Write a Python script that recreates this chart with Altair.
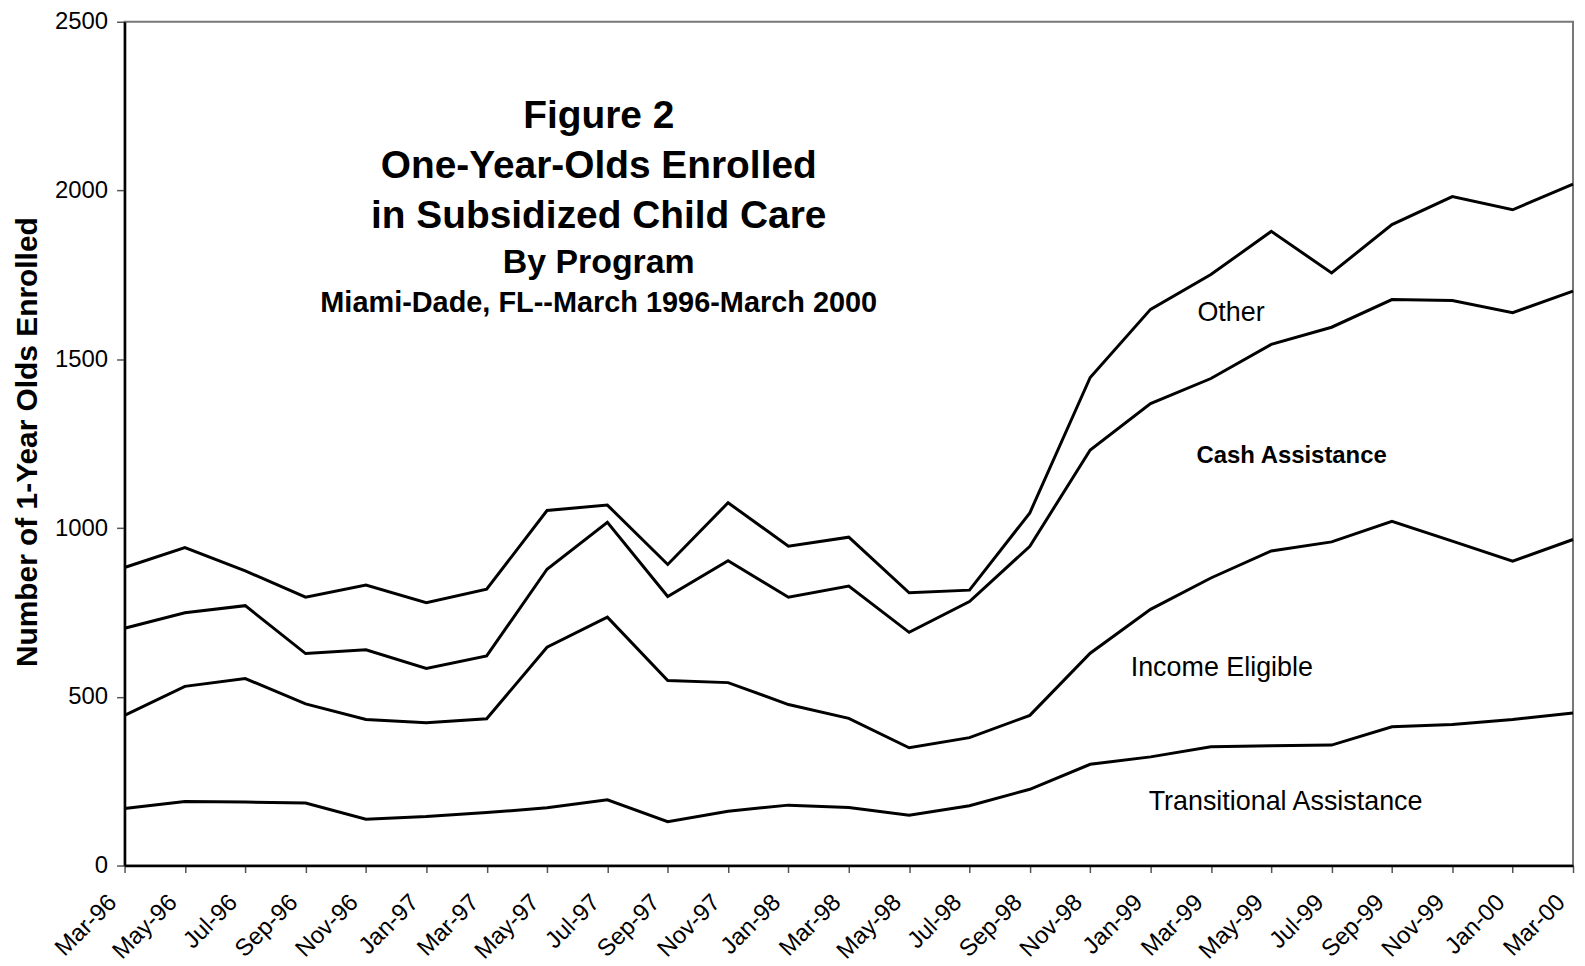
import altair as alt
import pandas as pd
import numpy as np

months = ["Mar-96", "May-96", "Jul-96", "Sep-96", "Nov-96", "Jan-97", "Mar-97",
          "May-97", "Jul-97", "Sep-97", "Nov-97", "Jan-98", "Mar-98", "May-98",
          "Jul-98", "Sep-98", "Nov-98", "Jan-99", "Mar-99", "May-99", "Jul-99",
          "Sep-99", "Nov-99", "Jan-00", "Mar-00"]

transitional = [169, 190, 188, 185, 137, 145, 157, 171, 195, 130, 161, 179, 172,
                149, 177, 226, 300, 322, 352, 355, 357, 411, 418, 433, 452]
income_eligible = [276, 341, 366, 294, 296, 278, 278, 476, 541, 418, 381, 298, 264,
                   200, 202, 219, 329, 437, 500, 577, 602, 609, 543, 469, 514]
cash_assistance = [258, 218, 216, 149, 206, 161, 186, 231, 281, 249, 361, 318, 392,
                   342, 403, 501, 602, 610, 591, 612, 636, 657, 713, 736, 736]
other = [180, 193, 103, 167, 192, 195, 198, 174, 51, 95, 172, 151, 145,
         117, 34, 99, 215, 279, 308, 335, 161, 222, 308, 305, 317]

series_names = ["Transitional Assistance", "Income Eligible", "Cash Assistance", "Other"]
y_ticks = [0, 500, 1000, 1500, 2000, 2500]

stacked = np.cumsum(np.array([transitional, income_eligible, cash_assistance, other]), axis=0)
rows = []
for name, vals in zip(series_names, stacked):
    for m, v in zip(months, vals):
        rows.append({"month": m, "series": name, "value": int(v)})
df = pd.DataFrame(rows)

W, H = 1454, 847
FONT = "Liberation Sans"

lines = alt.Chart(df).mark_line(color="black", strokeWidth=3).encode(
    x=alt.X("month:O", sort=months, scale=alt.Scale(padding=0),
            axis=alt.Axis(title=None, labelAngle=-45, labelFontSize=24,
                          labelAlign="right", labelBaseline="middle",
                          labelPadding=26, labelOffset=-12, tickSize=7)),
    y=alt.Y("value:Q", scale=alt.Scale(domain=[0, 2500], nice=False),
            axis=alt.Axis(values=y_ticks, format="d",
                          title="Number of 1-Year Olds Enrolled",
                          labelFontSize=24, labelPadding=9, tickSize=8,
                          titleFontSize=30, titleFontWeight="bold",
                          titleX=-97, titleY=H / 2 - 2, titleAngle=-90,
                          titleBaseline="middle", titleAlign="center")),
    detail="series:N",
)


def txt(s, x, y, size, weight="normal", align="center"):
    return alt.Chart(alt.Data(values=[{}])).mark_text(
        text=s, fontSize=size, fontWeight=weight, align=align,
        baseline="alphabetic", font=FONT, color="black"
    ).encode(x=alt.value(x), y=alt.value(y))


cx = 476
layers = [
    lines,
    txt("Figure 2", cx, 107, 39, "bold"),
    txt("One-Year-Olds Enrolled", cx, 157, 39, "bold"),
    txt("in Subsidized Child Care", cx, 207, 39, "bold"),
    txt("By Program", cx, 252, 34, "bold"),
    txt("Miami-Dade, FL--March 1996-March 2000", cx, 291, 29, "bold"),
    txt("Other", 1077, 300, 27, align="left"),
    txt("Cash Assistance", 1076, 443, 24, "bold", align="left"),
    txt("Income Eligible", 1010, 657, 27, align="left"),
    txt("Transitional Assistance", 1028, 791, 27, align="left"),
]

chart = alt.layer(*layers).properties(
    width=W, height=H,
    autosize=alt.AutoSizeParams(type="none"),
    padding={"left": 117, "top": 12, "right": 4, "bottom": 98},
    background="white",
).configure_view(
    stroke="#777", strokeWidth=2
).configure_axis(
    grid=False, domainColor="black", domainWidth=2.5,
    tickColor="#555", tickWidth=1.5,
    labelFont=FONT, labelColor="black", titleFont=FONT, titleColor="black",
)

chart.save("out.html", embed_options={"renderer": "svg", "actions": False})
